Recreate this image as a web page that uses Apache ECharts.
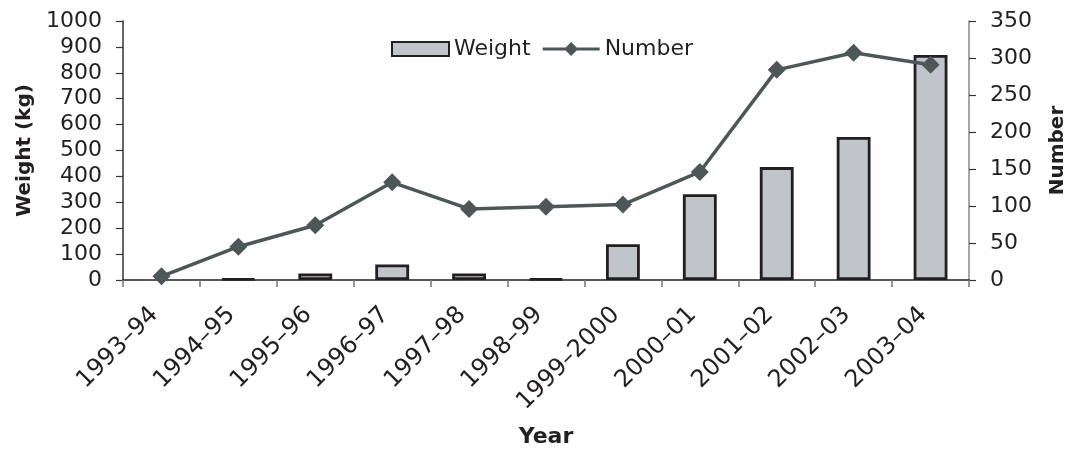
<!DOCTYPE html>
<html>
<head>
<meta charset="utf-8">
<script src="https://cdn.jsdelivr.net/npm/echarts@6/dist/echarts.min.js"></script>
<style>
html,body{margin:0;padding:0;background:#fff;}
#chart{width:1074px;height:453px;}
</style>
</head>
<body>
<div id="chart"></div>
<script>
const categories = ['1993–94','1994–95','1995–96','1996–97','1997–98','1998–99','1999–2000','2000–01','2001–02','2002–03','2003–04'];
const weightKg = [0, 5, 25, 60, 25, 5, 138, 331, 436, 552, 869];
const numberSeized = [5, 45, 74, 132, 96, 99, 102, 146, 284, 307, 291];
const leftTicks = {min: 0, max: 1000, interval: 100};
const rightTicks = {min: 0, max: 350, interval: 50};

const txt = '#231f20';
const font = 'DejaVu Sans';
const lineIcon = 'path://M0,5.5L23,5.5L28.5,0L34,5.5L57,5.5L57,8.5L34,8.5L28.5,14L23,8.5L0,8.5Z';
const chart = echarts.init(document.getElementById('chart'), null, {renderer: 'canvas'});
chart.setOption({
  animation: false,
  backgroundColor: '#ffffff',
  textStyle: {fontFamily: font, color: txt},
  grid: {left: 123, right: 105, top: 21, bottom: 173, containLabel: false, outerBoundsMode: 'none'},
  legend: {
    left: 386, top: 33,
    itemWidth: 57, itemHeight: 14, itemGap: 12,
    textStyle: {fontFamily: font, fontSize: 22, color: txt},
    data: [{name: 'Weight', icon: 'rect'}, {name: 'Number', icon: lineIcon, itemStyle: {color: '#4d5757', borderWidth: 0}}]
  },
  xAxis: {
    type: 'category',
    data: categories,
    boundaryGap: true,
    name: 'Year',
    nameLocation: 'middle',
    nameGap: 146,
    nameTextStyle: {fontFamily: font, fontSize: 22, fontWeight: 'bold', color: txt},
    axisLine: {lineStyle: {color: '#231f20', width: 1.5}},
    axisTick: {show: true, length: 7, lineStyle: {color: '#777', width: 1.5}},
    axisLabel: {rotate: 45, margin: 24, padding: [0, 10, 0, 0], fontFamily: font, fontSize: 24, color: txt}
  },
  yAxis: [
    {
      type: 'value',
      min: leftTicks.min, max: leftTicks.max, interval: leftTicks.interval,
      name: 'Weight (kg)',
      nameLocation: 'middle',
      nameGap: 87,
      nameRotate: 90,
      nameTextStyle: {fontFamily: font, fontSize: 20, fontWeight: 'bold', color: txt},
      axisLine: {show: true, lineStyle: {color: '#333', width: 1.5}},
      axisTick: {show: true, length: 7, lineStyle: {color: '#333', width: 1.2}},
      axisLabel: {margin: 21, fontFamily: font, fontSize: 22, color: txt, formatter: v => String(v)},
      splitLine: {show: false}
    },
    {
      type: 'value',
      position: 'right',
      min: rightTicks.min, max: rightTicks.max, interval: rightTicks.interval,
      name: 'Number',
      nameLocation: 'middle',
      nameGap: 79,
      nameRotate: 90,
      nameTextStyle: {fontFamily: font, fontSize: 20, fontWeight: 'bold', color: txt},
      axisLine: {show: true, lineStyle: {color: '#888', width: 1.5}},
      axisTick: {show: true, length: 7, lineStyle: {color: '#333', width: 1.2}},
      axisLabel: {margin: 21, fontFamily: font, fontSize: 22, color: txt, formatter: v => String(v)},
      splitLine: {show: false}
    }
  ],
  series: [
    {
      name: 'Weight',
      type: 'bar',
      yAxisIndex: 0,
      data: weightKg.map(v => v === 0 ? '-' : v),
      barWidth: '44%',
      itemStyle: {color: '#c0c4cb', borderColor: '#231f20', borderWidth: 2.8}
    },
    {
      name: 'Number',
      type: 'line',
      yAxisIndex: 1,
      data: numberSeized,
      symbol: 'diamond',
      symbolSize: 18,
      lineStyle: {color: '#4d5757', width: 3.5},
      itemStyle: {color: '#4d5757'},
      z: 5
    }
  ]
});
</script>
</body>
</html>
